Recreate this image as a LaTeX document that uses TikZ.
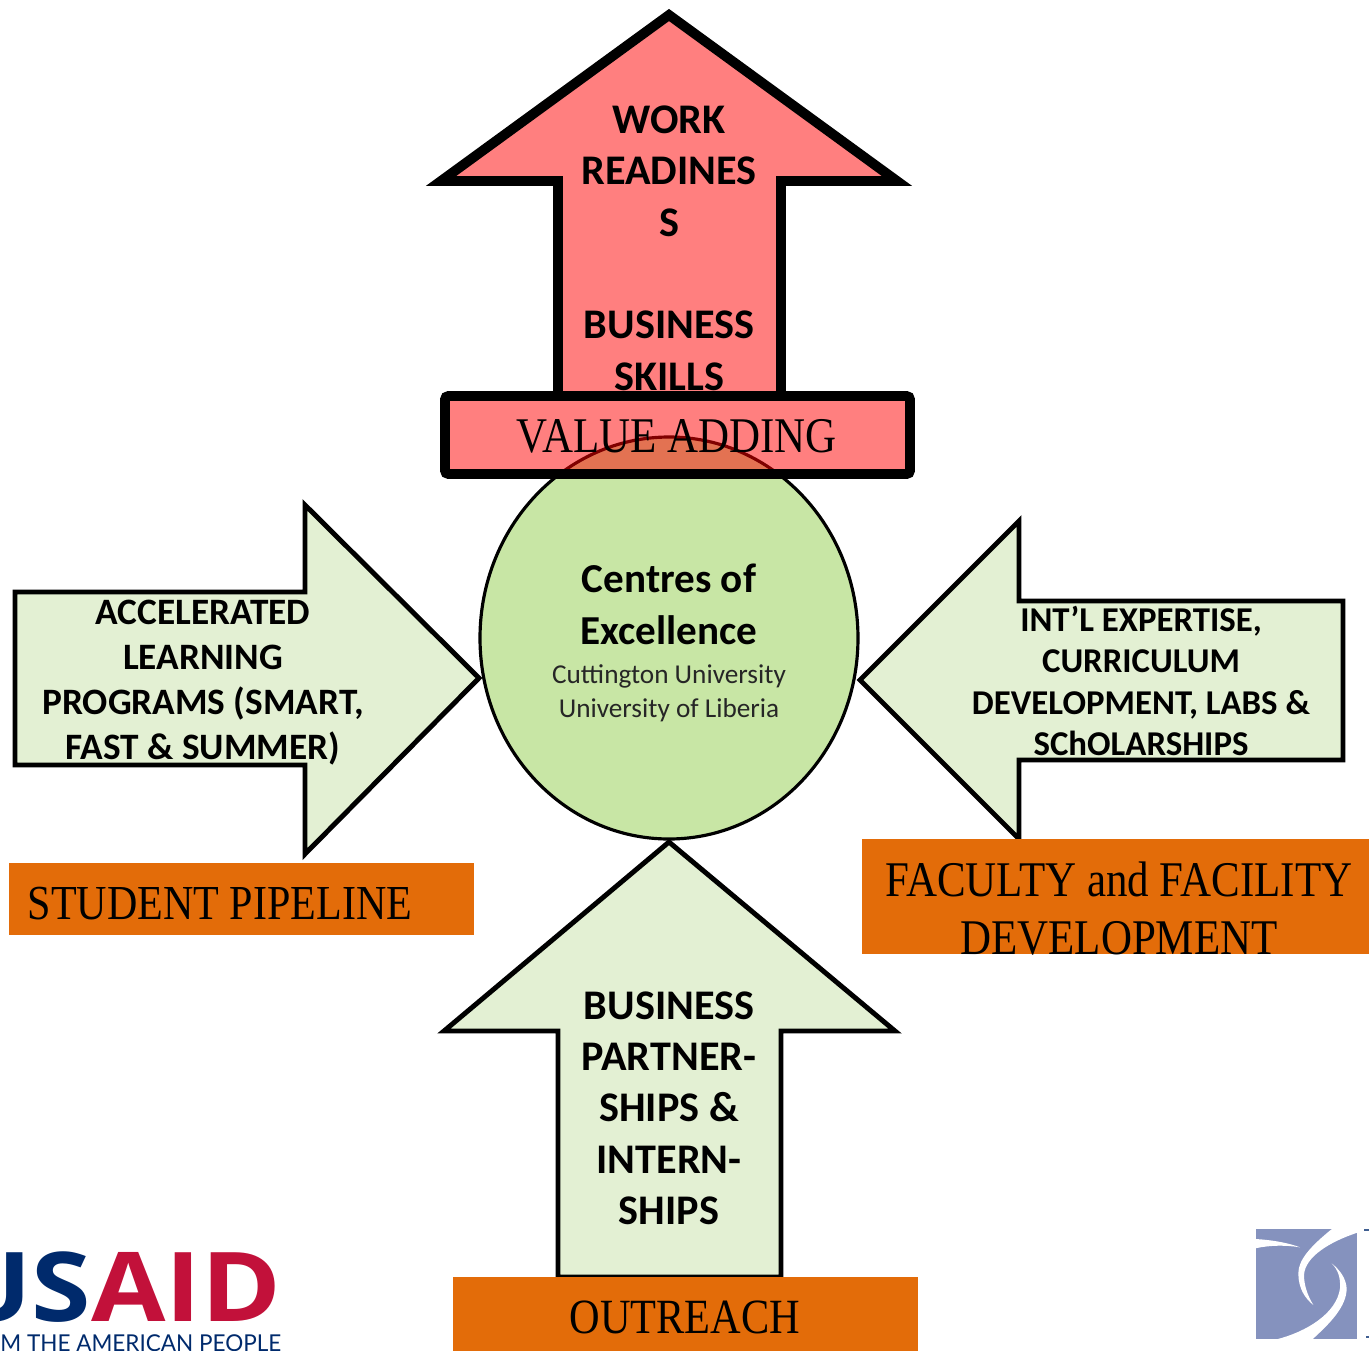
\documentclass[tikz,border=0pt]{standalone}
\usepackage{fontspec}
\setmainfont{Carlito}
\newfontfamily\capfont[FakeStretch=0.86]{Liberation Serif}
\newfontfamily\logofont[FakeStretch=1.12]{Open Sans}
\newfontfamily\logosubfont[FakeStretch=0.97]{Lato}
\usetikzlibrary{positioning}
\definecolor{paleGreen}{HTML}{E3F0D3}
\definecolor{coeGreen}{HTML}{C8E6A5}
\definecolor{bandOrange}{HTML}{E36C09}
\definecolor{usaidBlue}{HTML}{002A6C}
\definecolor{usaidRed}{HTML}{C2113A}
\definecolor{logoBlue}{HTML}{8592BE}
\tikzset{
  palearrow/.style={draw=black, line width=1.4pt, miter limit=10, fill=paleGreen},
  redfill/.style={draw=black, line width=2.8pt, miter limit=10, fill=red, fill opacity=0.5, draw opacity=1},
  bandbox/.style={fill=bandOrange},
  arrowtext/.style={align=center, font=\bfseries\fontsize{12}{14.6}\selectfont},
  bandtext/.style={font=\capfont\fontsize{14}{16.5}\selectfont, align=center}
}
\begin{document}
\begin{tikzpicture}[x=0.01cm,y=-0.01cm]
\useasboundingbox (0,0) rectangle (1369,1351);

% Centre circle
\draw[fill=coeGreen, line width=0.9pt] (669,638) ellipse [x radius=189, y radius=201];
\node[align=center, font=\bfseries\fontsize{11.7}{14.8}\selectfont] (coetitle) at (669,604) {Centres of\\Excellence};
\node[align=center, font=\fontsize{7.75}{9.6}\selectfont, text=black!85] (coesub) at (669,693) {Cuttington University\\University of Liberia};

% Value adding arrow and bar
\draw[redfill] (669,15) -- (897,181) -- (781,181) -- (781,396) -- (558,396) -- (558,181) -- (441,181) -- cycle;
\node[arrowtext] (worktext) at (669,248) {WORK\\READINES\\S\\[14.6pt]BUSINESS\\SKILLS};
\draw[redfill, rounded corners=1pt] (445,396) rectangle (910,474);
\node[bandtext, font=\capfont\fontsize{14.2}{17}\selectfont] (valuetext) at (677,436) {VALUE ADDING};

% Student pipeline
\draw[palearrow] (15,592) -- (305,592) -- (305,505) -- (479,678) -- (305,854) -- (305,765) -- (15,765) -- cycle;
\node[align=center, font=\bfseries\fontsize{10.6}{12.8}\selectfont] (studenttext) at (203,682.5) {ACCELERATED\\LEARNING\\PROGRAMS (SMART,\\FAST \& SUMMER)};
\fill[bandbox] (9,863) rectangle (474,935);
\node[bandtext, font=\capfont\fontsize{13.9}{16.5}\selectfont] (studentband) at (220,904) {STUDENT PIPELINE};

% Faculty and facility
\draw[palearrow] (1343,601) -- (1019,601) -- (1019,521) -- (860,680) -- (1019,839) -- (1019,760) -- (1343,760) -- cycle;
\node[align=center, font=\bfseries\fontsize{9.9}{11.8}\selectfont] (facultytext) at (1141,681) {INT’L EXPERTISE,\\CURRICULUM\\DEVELOPMENT, LABS \&\\SChOLARSHIPS};
\fill[bandbox] (862,839) rectangle (1369,954);
\node[bandtext, font=\capfont\fontsize{14.2}{16.5}\selectfont] (facultyband) at (1119,909) {FACULTY and FACILITY\\DEVELOPMENT};

% Outreach
\draw[palearrow] (669,842) -- (895,1031) -- (781,1031) -- (781,1277) -- (558,1277) -- (558,1031) -- (444,1031) -- cycle;
\node[arrowtext] (outreachtext) at (669,1108) {BUSINESS\\PARTNER-\\SHIPS \&\\INTERN-\\SHIPS};
\fill[bandbox] (453,1277) rectangle (918,1351);
\node[bandtext] (outreachband) at (685,1317) {OUTREACH};

% Logos, cut by the page edge
\begin{scope}
\clip (0,0) rectangle (1369,1351);
\node[anchor=base east, inner sep=0pt, font=\logofont\bfseries\fontsize{27.4}{27}\selectfont] (usaid) at (282,1321) {\textcolor{usaidBlue}{US}\textcolor{usaidRed}{AID}};
\node[anchor=base east, inner sep=0pt, text=usaidBlue, font=\logosubfont\fontsize{6.6}{8}\selectfont] (usaidsub) at (282,1351) {FROM THE AMERICAN PEOPLE};
\fill[usaidBlue!75!white] (1364,1229) rectangle (1369,1231);
\fill[usaidBlue!75!white] (1366,1336) rectangle (1369,1338);
\begin{scope}[shift={(1230,1210)},scale=1/3]
\fill[logoBlue] (78,57) rectangle (382,388);
\fill[white] (308,55) .. controls (240,110) and (205,150) .. (205,190) .. controls (205,235) and (225,265) .. (250,285)
  .. controls (232,255) and (222,225) .. (222,195) .. controls (225,140) and (300,95) .. (382,68) -- (384,55) -- cycle;
\fill[white] (305,160) .. controls (325,180) and (332,205) .. (330,235) .. controls (320,310) and (230,365) .. (140,388) -- (245,390)
  .. controls (300,340) and (350,290) .. (350,235) .. controls (348,205) and (330,180) .. (305,160) -- cycle;
\fill[white] (76,87) .. controls (130,90) and (180,100) .. (210,112) .. controls (170,105) and (120,105) .. (76,115) -- cycle;
\end{scope}
\end{scope}
\end{tikzpicture}
\end{document}
